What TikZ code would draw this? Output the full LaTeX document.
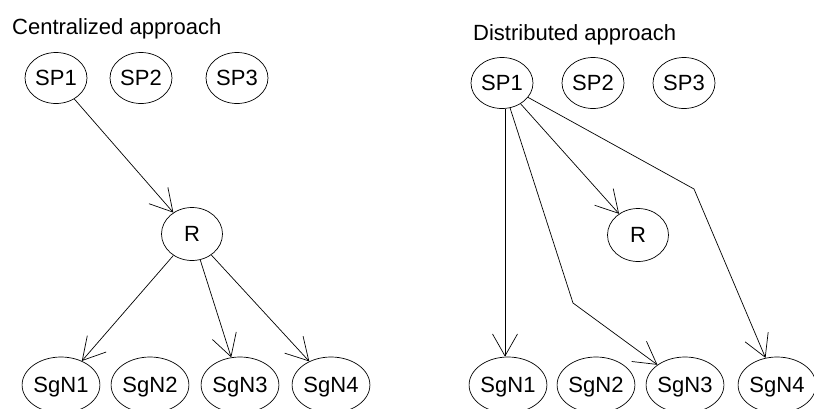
\documentclass[tikz,border=0pt]{standalone}
\usepackage{fontspec}
\setmainfont{Liberation Sans}
\usetikzlibrary{arrows.meta,shapes.geometric}
\begin{document}
\begin{tikzpicture}[x=1pt,y=-1pt,
  every node/.style={font=\fontsize{22}{26}\selectfont},
  ell/.style={ellipse,draw,line width=0.7pt,inner sep=0pt,text height=15.8pt,text depth=0pt},
  spn/.style={ell,minimum width=62pt,minimum height=51pt},
  sgn/.style={ell,minimum width=70pt,minimum height=56pt},
  rn/.style={ell,minimum width=61pt,minimum height=53pt},
  arr/.style={line width=0.7pt,-{Straight Barb[length=22pt,width=25pt,line width=0.7pt]}},
  ttl/.style={anchor=base west,inner sep=0pt}]
\useasboundingbox (0,0) rectangle (814,408);
% left
\node[ttl] (t1) at (12,34) {Centralized approach};
\node[spn] (a1) at (56,78) {SP1};
\node[spn] (a2) at (141,78) {SP2};
\node[spn] (a3) at (237,78) {SP3};
\node[rn] (ar) at (192,234) {R};
\node[sgn] (b1) at (61,385) {SgN1};
\node[sgn] (b2) at (150,385) {SgN2};
\node[sgn] (b3) at (240,385) {SgN3};
\node[sgn] (b4) at (331,385) {SgN4};
\draw[arr] (a1) -- (ar);
\draw[arr] (ar) -- (b1);
\draw[arr] (ar) -- (b3);
\draw[arr] (ar) -- (b4);
% right
\node[ttl] (t2) at (473,40) {Distributed approach};
\node[spn] (c1) at (502,83) {SP1};
\node[spn] (c2) at (593,83) {SP2};
\node[spn] (c3) at (684,83) {SP3};
\node[rn] (cr) at (638,235) {R};
\node[sgn] (d1) at (508,385) {SgN1};
\node[sgn] (d2) at (596,385) {SgN2};
\node[sgn] (d3) at (685,385) {SgN3};
\node[sgn] (d4) at (777,385) {SgN4};
\coordinate (k3) at (573,303);
\coordinate (k4) at (694,189);
\draw[arr] (c1.south -| 505,0) -- (d1.north -| 505,0);
\draw[arr] (c1) -- (cr);
\draw[arr] (c1) -- (k3) -- (d3);
\draw[arr] (c1) -- (k4) -- (d4);
\end{tikzpicture}
\end{document}
